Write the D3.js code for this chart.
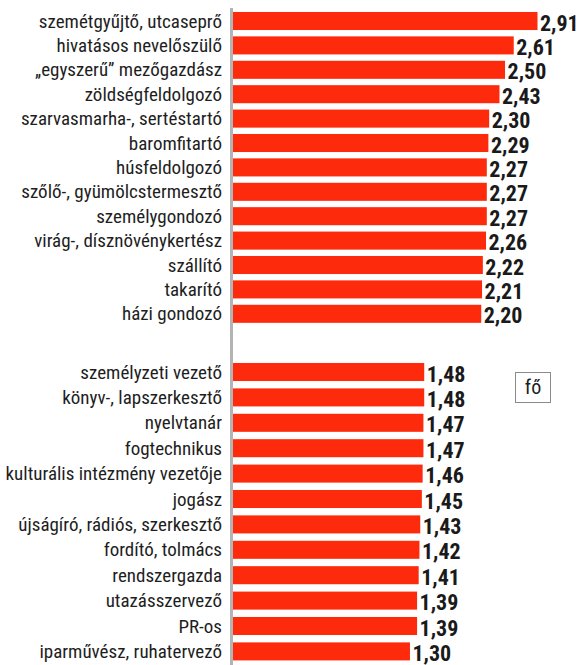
<!DOCTYPE html>
<html><head><meta charset="utf-8">
<script src="https://cdn.jsdelivr.net/npm/d3@7"></script>
<style>
html,body{margin:0;padding:0;background:#fff;}
svg{display:block;}
text{font-family:Roboto,'Noto Sans',sans-serif;font-stretch:condensed;}
</style></head>
<body>
<script>
// ---- data ----
const topCategories = [
  "szemétgyűjtő, utcaseprő","hivatásos nevelőszülő","„egyszerű” mezőgazdász","zöldségfeldolgozó",
  "szarvasmarha-, sertéstartó","baromfitartó","húsfeldolgozó","szőlő-, gyümölcstermesztő",
  "személygondozó","virág-, dísznövénykertész","szállító","takarító","házi gondozó"
];
const topValues = [2.91,2.61,2.50,2.43,2.30,2.29,2.27,2.27,2.27,2.26,2.22,2.21,2.20];
const bottomCategories = [
  "személyzeti vezető","könyv-, lapszerkesztő","nyelvtanár","fogtechnikus",
  "kulturális intézmény vezetője","jogász","újságíró, rádiós, szerkesztő","fordító, tolmács",
  "rendszergazda","utazásszervező","PR-os","iparművész, ruhatervező"
];
const bottomValues = [1.48,1.48,1.47,1.47,1.46,1.45,1.43,1.42,1.41,1.39,1.39,1.30];
const legendLabel = "fő";

// ---- layout ----
const W = 588, H = 665;
const svg = d3.select("body").append("svg").attr("width", W).attr("height", H);

const x = d3.scaleLinear().domain([-0.934, 2.91]).range([233, 537.5]);
const yTop = d3.scaleBand().domain(topCategories).range([8.8, 326]).paddingInner(0.26).paddingOuter(0.13);
const yBot = d3.scaleBand().domain(bottomCategories).range([359.3, 664.1]).paddingInner(0.29).paddingOuter(0.145);

const fmt = v => d3.format(".2f")(v).replace(".", ",");

// baseline
svg.append("line").attr("x1", 231.5).attr("x2", 231.5).attr("y1", 8).attr("y2", H)
  .attr("stroke", "#b4b4b4").attr("stroke-width", 3);

function drawGroup(cats, vals, y) {
  const data = cats.map((c, i) => ({c, v: vals[i]}));
  const g = svg.append("g");
  g.selectAll("rect").data(data).join("rect")
    .attr("x", x(x.domain()[0]))
    .attr("y", d => y(d.c))
    .attr("width", d => x(d.v) - x(x.domain()[0]))
    .attr("height", y.bandwidth())
    .attr("fill", "#fe2a0c");
  g.selectAll("text.lab").data(data).join("text").attr("class", "lab")
    .attr("x", 222)
    .attr("y", d => y(d.c) + y.bandwidth()/2 + 6.5)
    .attr("text-anchor", "end")
    .attr("font-size", 19)
    .attr("fill", "#1e1e1e")
    .text(d => d.c);
  g.selectAll("text.val").data(data).join("text").attr("class", "val")
    .attr("x", d => x(d.v) + 2.5)
    .attr("y", d => y(d.c) + y.bandwidth()/2 + 9.5)
    .attr("font-weight", "bold")
    .attr("font-size", 22)
    .attr("fill", "#1a1a1a")
    .text(d => fmt(d.v));
}
drawGroup(topCategories, topValues, yTop);
drawGroup(bottomCategories, bottomValues, yBot);

// legend box
const lg = svg.append("g");
lg.append("rect").attr("x", 515.5).attr("y", 372.5).attr("width", 35).attr("height", 30)
  .attr("fill", "#fff").attr("stroke", "#8a8a8a").attr("stroke-width", 1);
lg.append("text").attr("x", 533).attr("y", 394).attr("text-anchor", "middle")
  .attr("font-size", 20)
  .attr("fill", "#1e1e1e").text(legendLabel);
</script>
</body></html>
